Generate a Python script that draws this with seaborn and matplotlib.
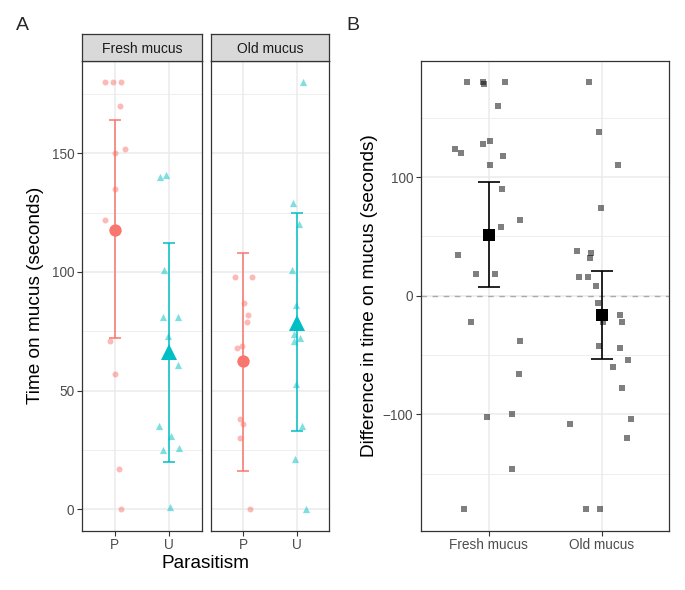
import numpy as np
import pandas as pd
import seaborn as sns
import matplotlib.pyplot as plt
from matplotlib.ticker import MultipleLocator

# Panel A: time on mucus per fish (seconds)
parasitism = ['P', 'U']
mucus = ['Fresh mucus', 'Old mucus']
fresh_P = [180, 180, 180, 170, 152, 150, 135, 122, 71, 57, 17, 0]
fresh_U = [141, 140, 101, 81, 81, 73, 61, 35, 31, 26, 25, 1]
old_P = [98, 98, 87, 82, 79, 69, 68, 63, 38, 36, 30, 0]
old_U = [180, 129, 120, 101, 86, 74, 72, 71, 53, 35, 21, 0]
# 95% CI (lower, upper) for P and U
ci_fresh_low = [72, 20]
ci_fresh_high = [164, 112]
ci_old_low = [16, 33]
ci_old_high = [108, 125]

# Panel B: difference in time on mucus (seconds)
diff_fresh = [180, 180, 180, 178, 160, 130, 128, 124, 120, 118, 110, 90,
              64, 58, 34, 18, 18, -22, -38, -66, -100, -102, -146, -180]
diff_old = [180, 138, 110, 74, 38, 36, 32, 16, 16, 8, -6, -16,
            -22, -22, -42, -44, -54, -60, -78, -104, -108, -120, -180, -180]
ci_diff_low = [7, -53]
ci_diff_high = [96, 21]

dfA = pd.DataFrame({
    'mucus': ['Fresh mucus'] * 24 + ['Old mucus'] * 24,
    'parasitism': ['P'] * 12 + ['U'] * 12 + ['P'] * 12 + ['U'] * 12,
    'time': fresh_P + fresh_U + old_P + old_U,
})
dfB = pd.DataFrame({
    'mucus': ['Fresh mucus'] * len(diff_fresh) + ['Old mucus'] * len(diff_old),
    'diff': diff_fresh + diff_old,
})

sns.set_theme(style='white')
plt.rcParams['font.family'] = ['Liberation Sans', 'DejaVu Sans']

colors = {'P': '#F8766D', 'U': '#00BFC4'}
markers = {'P': 'o', 'U': '^'}
mean_size = {'P': 8.9, 'U': 11.5}
pt_size = {'P': 4.3, 'U': 5.2}
grid_c = '#EBEBEB'
border_c = '#333333'
tick_c = '#4D4D4D'

fig = plt.figure(figsize=(6.85, 5.9), dpi=100)
W, H = 685, 590


def box(x0, y0, x1, y1):
    return [x0 / W, 1 - y1 / H, (x1 - x0) / W, (y1 - y0) / H]


def style_axes(ax, minor):
    ax.set_facecolor('white')
    ax.yaxis.set_minor_locator(MultipleLocator(minor))
    ax.grid(which='major', axis='both', color=grid_c, lw=1.1, zorder=0)
    ax.grid(which='minor', axis='y', color=grid_c, lw=0.6, zorder=0)
    ax.set_axisbelow(True)
    for s in ax.spines.values():
        s.set_color(border_c)
        s.set_linewidth(0.9)
        s.set_visible(True)
    ax.tick_params(which='major', length=3.5, width=0.8, color=border_c,
                   labelcolor=tick_c, labelsize=9.8, pad=2,
                   left=True, bottom=True)
    ax.tick_params(which='minor', length=0)
    ax.set_xlabel('')
    ax.set_ylabel('')


np.random.seed(7)
facet_x = [(82, 201.7), (210.7, 329.3)]
ci_lows = [ci_fresh_low, ci_old_low]
ci_highs = [ci_fresh_high, ci_old_high]
for i, m in enumerate(mucus):
    x0, x1 = facet_x[i]
    ax = fig.add_axes(box(x0, 60.7, x1, 530.7))
    sub = dfA[dfA['mucus'] == m]
    for p in parasitism:
        d = sub[sub['parasitism'] == p]
        sns.stripplot(data=d, x='parasitism', y='time', order=parasitism,
                      jitter=0.2, marker=markers[p], color=colors[p],
                      alpha=0.5, size=pt_size[p], linewidth=0, ax=ax,
                      zorder=2)
    for j, p in enumerate(parasitism):
        mean = sub[sub['parasitism'] == p]['time'].mean()
        lo, hi = ci_lows[i][j], ci_highs[i][j]
        ax.errorbar([j], [mean], yerr=[[mean - lo], [hi - mean]],
                    fmt='none', ecolor=colors[p], elinewidth=1.1,
                    capsize=4, capthick=1.1, zorder=3)
        ax.plot([j], [mean], marker=markers[p], color=colors[p],
                markersize=mean_size[p], linestyle='none', zorder=4,
                markeredgewidth=0)
    ax.set_xlim(-0.6, 1.6)
    ax.set_ylim(-9, 189)
    ax.set_yticks([0, 50, 100, 150])
    style_axes(ax, 25)
    if i > 0:
        ax.tick_params(axis='y', left=False, labelleft=False)
    # facet strip
    sax = fig.add_axes(box(x0, 33.7, x1, 60.7))
    sax.set_facecolor('#D9D9D9')
    sax.set_xticks([])
    sax.set_yticks([])
    for s in sax.spines.values():
        s.set_color(border_c)
        s.set_linewidth(0.9)
        s.set_visible(True)
    sax.text(0.5, 0.45, m, ha='center', va='center', fontsize=10,
             color='#1A1A1A', transform=sax.transAxes)

fig.text(205.7 / W, 1 - 563 / H, 'Parasitism', ha='center', va='center',
         fontsize=13.7, color='black')
fig.text(36 / W, 1 - 295.7 / H, 'Time on mucus (seconds)', rotation=90,
         ha='center', va='center', fontsize=13.7, color='black')

# Panel B
axB = fig.add_axes(box(421, 60.7, 669.3, 530.7))
axB.axhline(0, color='#AAAAAA', lw=1.0, ls=(0, (4, 4)), zorder=1)
sns.stripplot(data=dfB, x='mucus', y='diff', order=mucus, jitter=0.3,
              marker='s', color='black', alpha=0.5, size=3.8, linewidth=0,
              ax=axB, zorder=2)
for j, m in enumerate(mucus):
    mean = dfB[dfB['mucus'] == m]['diff'].mean()
    lo, hi = ci_diff_low[j], ci_diff_high[j]
    axB.errorbar([j], [mean], yerr=[[mean - lo], [hi - mean]], fmt='none',
                 ecolor='black', elinewidth=1.2, capsize=8, capthick=1.2,
                 zorder=3)
    axB.plot([j], [mean], marker='s', color='black', markersize=9.1,
             linestyle='none', markeredgewidth=0, zorder=4)
axB.set_xlim(-0.6, 1.6)
axB.set_ylim(-198, 198)
axB.set_yticks([-100, 0, 100])
style_axes(axB, 50)
fig.text(369 / W, 1 - 295.7 / H, 'Difference in time on mucus (seconds)',
         rotation=90, ha='center', va='center', fontsize=13.7, color='black')

fig.text(22.5 / W, 1 - 25 / H, 'A', ha='center', va='center', fontsize=14)
fig.text(353 / W, 1 - 25 / H, 'B', ha='center', va='center', fontsize=14)

fig.savefig('out.png', dpi=100)
